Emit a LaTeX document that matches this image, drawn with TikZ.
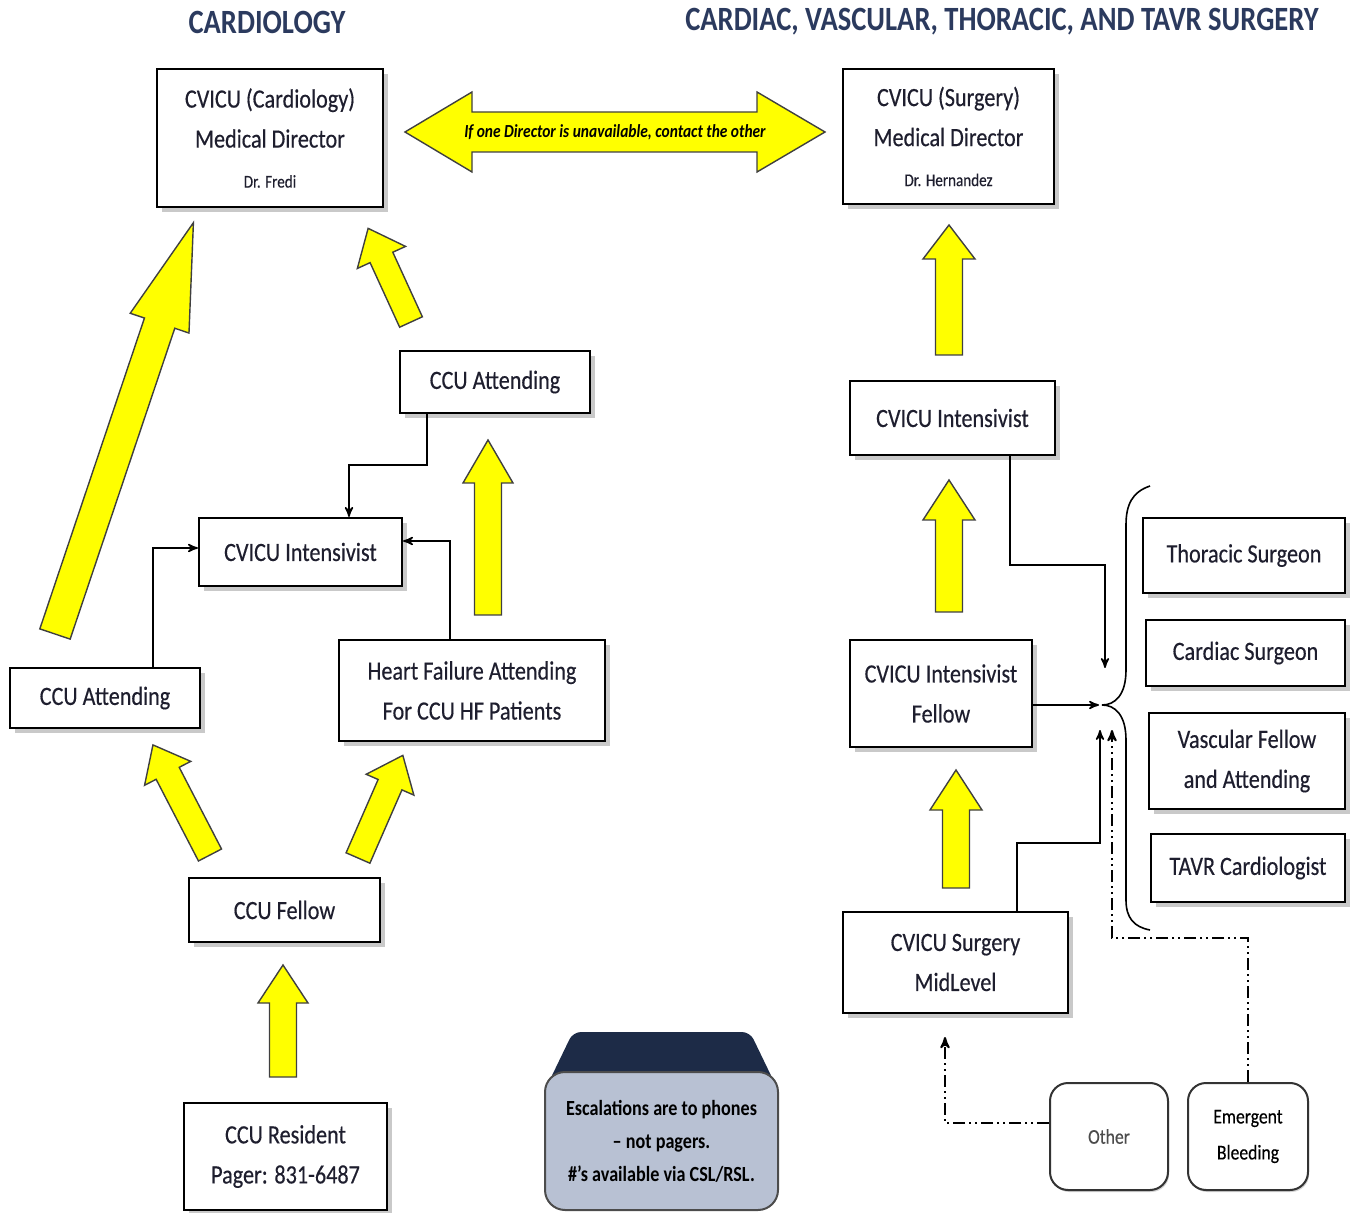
\documentclass[tikz,border=0pt]{standalone}
\usepackage{fontspec}
\setmainfont{Carlito}[FakeStretch=0.84]
\newfontfamily\boxfont{Carlito}[FakeStretch=0.84,FakeBold=0.35]
\usepackage{tikz}
\usetikzlibrary{arrows, positioning, calc, shadows}
\definecolor{headblue}{HTML}{2B3A5E}
\definecolor{navytab}{HTML}{1D2B47}
\definecolor{notefill}{HTML}{B8C1D3}
\definecolor{arrowyellow}{HTML}{FFFF00}
\definecolor{boxtext}{HTML}{1E1E2E}

% block arrow: tail, angle, length, shaft width, head width, head length
\newcommand{\yarrow}[6]{%
	\begin{scope}[shift={(#1)}, rotate=#2]
		\draw[block arrow] (0,-#4/2) -- ({#3-#6},-#4/2) -- ({#3-#6},-#5/2) -- (#3,0)
		-- ({#3-#6},#5/2) -- ({#3-#6},#4/2) -- (0,#4/2) -- cycle;
	\end{scope}}

\begin{document}
\begin{tikzpicture}[x=0.5pt,y=-0.5pt,>=stealth',
		main box/.style={draw,fill=white,line width=1.1pt,align=center,inner sep=0pt,
			text=boxtext,font=\boxfont\fontsize{13.2}{20}\selectfont,
			drop shadow={shadow xshift=2.5pt,shadow yshift=-2.5pt,fill=gray!85}},
		round box/.style={draw=black!80,fill=white,line width=1pt,rounded corners=9pt,
			align=center,inner sep=0pt,font=\boxfont\fontsize{10.5}{18}\selectfont,
			drop shadow={shadow xshift=0.6pt,shadow yshift=-1pt,fill=gray!70}},
		head/.style={text=headblue,font=\bfseries\fontsize{17}{20}\selectfont},
		block arrow/.style={fill=arrowyellow,draw=black!75,line width=0.7pt},
		link/.style={line width=0.8pt},
		dashdot/.style={line width=1pt,
			dash pattern=on 6pt off 2pt on 1pt off 2pt on 1pt off 2pt}]
		
		\useasboundingbox (0,0) rectangle (1355,1213);
		
		\node[head] (hL) at (267,22) {CARDIOLOGY};
		\node[head] (hR) at (1002,22) {CARDIAC, VASCULAR, THORACIC, AND TAVR SURGERY};
		
		% cardiology side
		\node[main box,minimum width=113pt,minimum height=69pt] (dirL) at (270,138)
		{CVICU (Cardiology)\\Medical Director\\{\fontsize{9}{20}\selectfont Dr. Fredi}};
		\node[main box,minimum width=95pt,minimum height=31pt] (attT) at (495,382) {CCU Attending};
		\node[main box,minimum width=101.5pt,minimum height=34pt] (intL) at (300.5,552) {CVICU Intensivist};
		\node[main box,minimum width=95pt,minimum height=30pt] (attL) at (105,698) {CCU Attending};
		\node[main box,minimum width=133pt,minimum height=50.5pt] (hf) at (472,690.5)
		{Heart Failure Attending\\For CCU HF Patients};
		\node[main box,minimum width=95.5pt,minimum height=32pt] (fel) at (284.5,910) {CCU Fellow};
		\node[main box,minimum width=101.5pt,minimum height=53.5pt] (res) at (285.5,1156.5)
		{CCU Resident\\Pager: 831-6487};
		
		% surgery side
		\node[main box,minimum width=105.5pt,minimum height=67.5pt] (dirR) at (948.5,136.5)
		{CVICU (Surgery)\\Medical Director\\{\fontsize{9}{20}\selectfont Dr. Hernandez}};
		\node[main box,minimum width=102.5pt,minimum height=37pt] (intR) at (952.5,418) {CVICU Intensivist};
		\node[main box,minimum width=91pt,minimum height=53.5pt] (felR) at (941,693.5)
		{CVICU Intensivist\\Fellow};
		\node[main box,minimum width=112.5pt,minimum height=50.5pt] (mid) at (955.5,962.5)
		{CVICU Surgery\\MidLevel};
		\node[main box,minimum width=101pt,minimum height=37.5pt] (tho) at (1244,555.5) {Thoracic Surgeon};
		\node[main box,minimum width=99.5pt,minimum height=33pt] (car) at (1245.5,653) {Cardiac Surgeon};
		\node[main box,minimum width=98pt,minimum height=48pt] (vas) at (1247,761)
		{Vascular Fellow\\and Attending};
		\node[main box,minimum width=97pt,minimum height=34pt] (tavr) at (1248,868) {TAVR Cardiologist};
		\node[round box,minimum width=59pt,minimum height=53.5pt,text=black!70] (oth) at (1109,1136.5) {Other};
		\node[round box,minimum width=60pt,minimum height=53.5pt] (ebl) at (1248,1136.5) {Emergent\\Bleeding};
		
		% director link
		\draw[block arrow] (405,132) -- (472,92) -- (472,112) -- (757,112) -- (757,92) -- (825,132)
		-- (757,172) -- (757,152) -- (472,152) -- (472,172) -- cycle;
		\node[font=\bfseries\itshape\fontsize{9.2}{10}\selectfont] (dlink) at (615,132)
		{If one Director is unavailable, contact the other};
		
		% escalation arrows
		\yarrow{55,634}{71.4}{434}{32}{62}{106}
		\yarrow{411,322}{114.6}{103}{25}{53}{32}
		\yarrow{488,615}{90}{175}{27}{50}{43}
		\yarrow{210,855}{117.4}{124}{26}{52}{32}
		\yarrow{358,858}{66.4}{112}{26}{52}{32}
		\yarrow{283,1077}{90}{112}{27}{50}{38}
		\yarrow{949,355}{90}{130}{27}{52}{34}
		\yarrow{949,612}{90}{132}{27}{52}{40}
		\yarrow{956,888}{90}{118}{27}{52}{40}
		
		% cardiology connectors
		\draw[link,->] (attT.south -| 427,0) |- (349,465) -- (intL.north -| 349,0);
		\draw[link,->] (attL.north -| 153,0) |- ([yshift=2pt]intL.west);
		\draw[link,->] (hf.north -| 450,0) |- ([yshift=5.5pt]intL.east);
		
		% surgery connectors
		\coordinate (jn) at (1102,705);
		\coordinate (jT) at (1105,668);
		\coordinate (jL) at (1099,705);
		\coordinate (jB1) at (1100,730);
		\coordinate (jB2) at (1112,730);
		\coordinate (oT) at (945,1037);
		\draw[link] (1150,486) .. controls (1132,492) and (1126,505) .. (1126,525) -- (1126,670)
		.. controls (1126,695) and (1115,705) .. (jn)
		.. controls (1115,705) and (1126,715) .. (1126,740) -- (1126,900)
		.. controls (1126,918) and (1134,927) .. (1150,930);
		\draw[link,->] (intR.south -| 1010,0) |- (1105,565) -- (jT);
		\draw[link,->] (felR.east |- jL) -- (jL);
		\draw[link,->] (mid.north -| 1017,0) |- (1100,843) -- (jB1);
		\draw[dashdot,->] (ebl.north) |- (1112,938) -- (jB2);
		\draw[dashdot,->] ([yshift=7pt]oth.west) -| (oT);
		
		% note
		\fill[navytab,rounded corners=4pt] (573,1032) -- (750,1032) -- (778,1090) -- (545,1090) -- cycle;
		\node[draw=black!70,fill=notefill,line width=1pt,rounded corners=10pt,
		minimum width=116.5pt,minimum height=69pt,inner sep=0pt,align=center,
		font=\bfseries\fontsize{10.8}{16.5}\selectfont] (note) at (661.5,1141)
		{Escalations are to phones\\-- not pagers.\\\#'s available via CSL/RSL.};
	\end{tikzpicture}
\end{document}
